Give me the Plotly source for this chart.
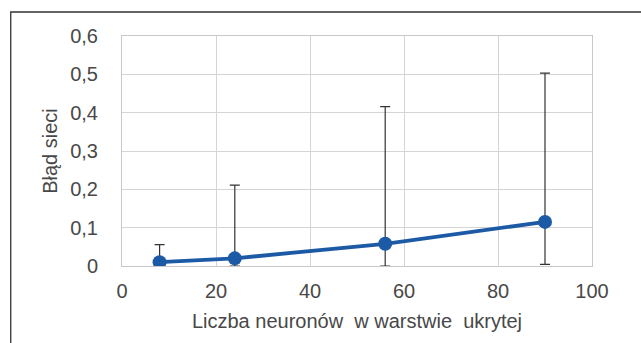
import plotly.graph_objects as go

neurons = [8, 24, 56, 90]
error = [0.010, 0.020, 0.058, 0.115]
err_upper = [0.046, 0.191, 0.358, 0.388]
err_lower = [0.010, 0.020, 0.058, 0.111]
y_ticks = [0, 0.1, 0.2, 0.3, 0.4, 0.5, 0.6]
y_ticktext = ["0", "0,1", "0,2", "0,3", "0,4", "0,5", "0,6"]
x_ticks = [0, 20, 40, 60, 80, 100]

W, H = 641, 343
L, R, T, B = 121.5, 592.5, 35.5, 265.7

fig = go.Figure()
fig.add_trace(go.Scatter(
    x=neurons, y=error, mode="lines+markers",
    line=dict(color="#1c5aa6", width=3.8),
    marker=dict(color="#1c5aa6", size=14),
    error_y=dict(type="data", symmetric=False, array=err_upper, arrayminus=err_lower,
                 color="#333333", thickness=1.2, width=5),
    showlegend=False,
))

pw, ph = R - L, B - T
def px(x): return (x - L) / pw
def py(y): return (B - y) / ph

fig.update_layout(
    width=W, height=H,
    margin=dict(l=L, r=W - R, t=T, b=H - B, pad=0),
    paper_bgcolor="white", plot_bgcolor="white",
    font=dict(family="Liberation Sans, Arial, sans-serif", color="#484848", size=20),
    xaxis=dict(range=[0, 100], tickvals=x_ticks, showgrid=True, gridcolor="#d4d4d4",
               gridwidth=1, zeroline=False, showline=True, linecolor="#c8c8c8", mirror=True,
               ticks="outside", ticklen=7, tickcolor="rgba(0,0,0,0)", tickfont=dict(size=20),
               title=dict(text="Liczba neuronów  w warstwie  ukrytej", font=dict(size=20), standoff=12)),
    yaxis=dict(range=[0, 0.6], tickvals=y_ticks, ticktext=y_ticktext, showgrid=True,
               gridcolor="#d4d4d4", gridwidth=1, zeroline=False, showline=True,
               linecolor="#c8c8c8", mirror=True,
               ticks="outside", ticklen=19, tickcolor="rgba(0,0,0,0)", tickfont=dict(size=20),
               title=dict(text="Błąd sieci", font=dict(size=20), standoff=7)),
    shapes=[dict(type="rect", xref="paper", yref="paper",
                 x0=px(10), x1=px(660), y0=py(360), y1=py(11.5),
                 line=dict(color="#333333", width=1.3), layer="below")],
)
fig.write_html("out.html", config={"displayModeBar": False},
               post_script="document.body.style.margin='0';document.body.style.overflow='hidden';")
